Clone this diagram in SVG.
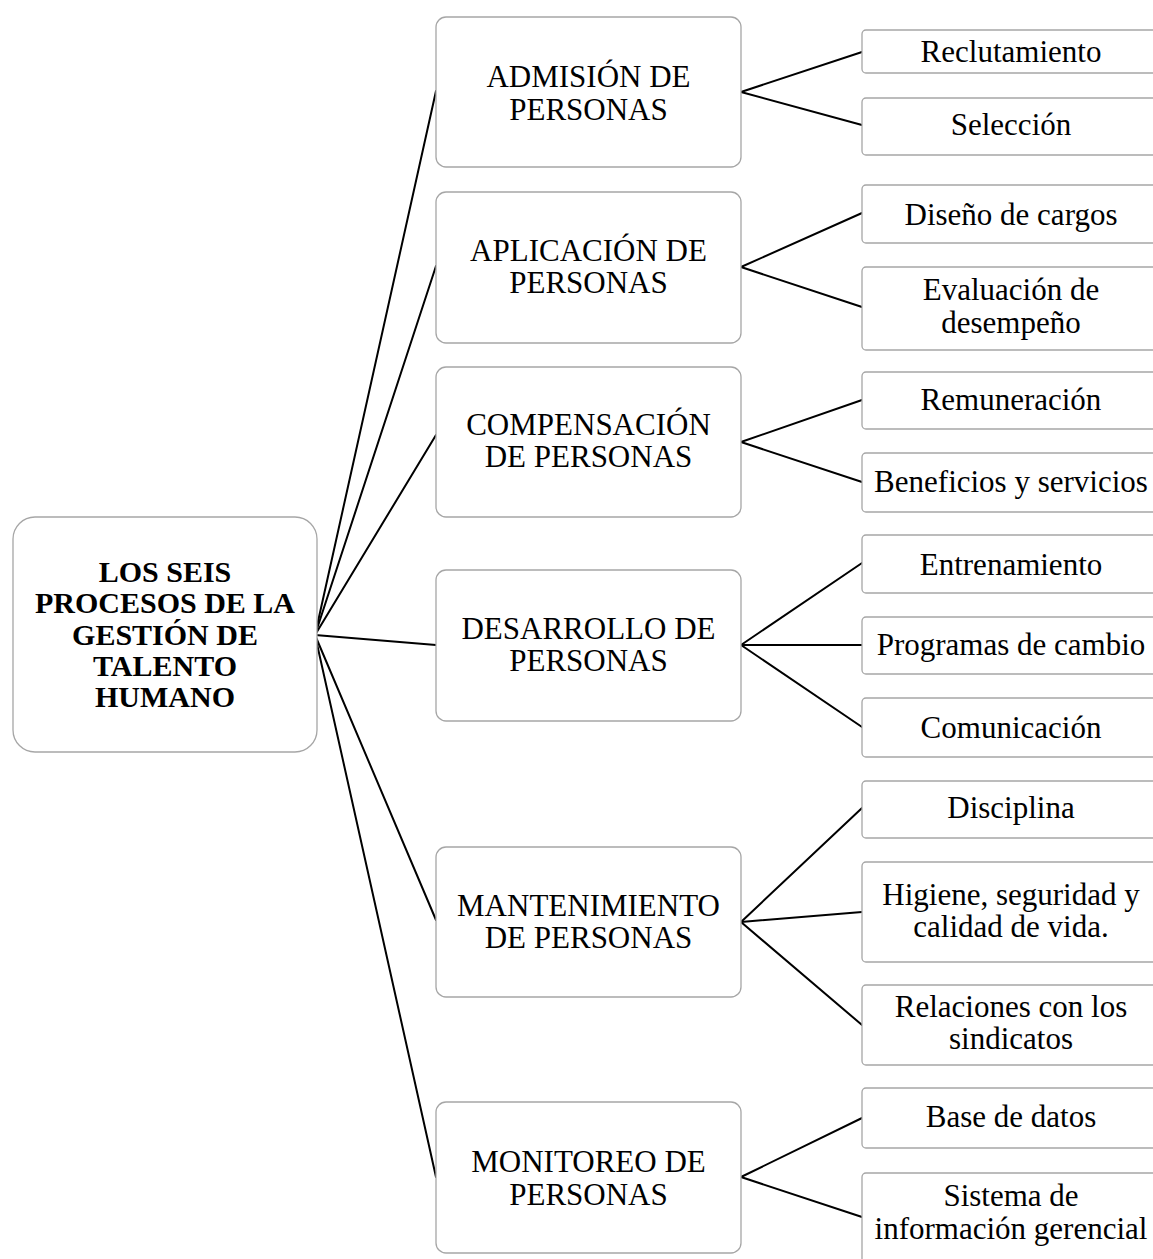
<svg xmlns="http://www.w3.org/2000/svg" width="1153" height="1259" viewBox="0 0 1153 1259">
<style>
.box{fill:#fff;stroke:#a6a6a6;stroke-width:1.3}
.t{font-family:"Liberation Serif","Times New Roman",serif;font-size:31px;fill:#000;text-anchor:middle}
.b{font-weight:bold;font-size:30px}
.c line{stroke:#000;stroke-width:2;stroke-linecap:round}
</style>
<rect width="1153" height="1259" fill="#fff"/>
<g class="c" id="connectors">
<line x1="315" y1="635" x2="436" y2="91"/>
<line x1="315" y1="635" x2="436" y2="266"/>
<line x1="315" y1="635" x2="436" y2="435"/>
<line x1="315" y1="635" x2="436" y2="645"/>
<line x1="315" y1="635" x2="436" y2="920"/>
<line x1="315" y1="635" x2="436" y2="1177"/>
<line x1="741" y1="92" x2="862" y2="52"/>
<line x1="741" y1="92" x2="862" y2="125"/>
<line x1="741" y1="267" x2="862" y2="213"/>
<line x1="741" y1="267" x2="862" y2="307"/>
<line x1="741" y1="442" x2="862" y2="400"/>
<line x1="741" y1="442" x2="862" y2="482"/>
<line x1="741" y1="645" x2="862" y2="563"/>
<line x1="741" y1="645" x2="862" y2="645"/>
<line x1="741" y1="645" x2="862" y2="727"/>
<line x1="741" y1="922" x2="862" y2="808"/>
<line x1="741" y1="922" x2="862" y2="912"/>
<line x1="741" y1="922" x2="862" y2="1025"/>
<line x1="741" y1="1177" x2="862" y2="1118"/>
<line x1="741" y1="1177" x2="862" y2="1217"/>
</g>
<g id="root">
<rect class="box" x="13" y="517" width="304" height="235" rx="22"/>
<text class="t b" x="165" y="582">LOS SEIS</text>
<text class="t b" x="165" y="613">PROCESOS DE LA</text>
<text class="t b" x="165" y="645">GESTIÓN DE</text>
<text class="t b" x="165" y="676">TALENTO</text>
<text class="t b" x="165" y="707">HUMANO</text>
</g>
<g id="admision">
<rect class="box" x="436" y="17" width="305" height="150" rx="10"/>
<text class="t" x="588.5" y="87">ADMISIÓN DE</text>
<text class="t" x="588.5" y="120">PERSONAS</text>
</g>
<g id="aplicacion">
<rect class="box" x="436" y="192" width="305" height="151" rx="10"/>
<text class="t" x="588.5" y="261">APLICACIÓN DE</text>
<text class="t" x="588.5" y="293">PERSONAS</text>
</g>
<g id="compensacion">
<rect class="box" x="436" y="367" width="305" height="150" rx="10"/>
<text class="t" x="588.5" y="435">COMPENSACIÓN</text>
<text class="t" x="588.5" y="467">DE PERSONAS</text>
</g>
<g id="desarrollo">
<rect class="box" x="436" y="570" width="305" height="151" rx="10"/>
<text class="t" x="588.5" y="639">DESARROLLO DE</text>
<text class="t" x="588.5" y="671">PERSONAS</text>
</g>
<g id="mantenimiento">
<rect class="box" x="436" y="847" width="305" height="150" rx="10"/>
<text class="t" x="588.5" y="916">MANTENIMIENTO</text>
<text class="t" x="588.5" y="948">DE PERSONAS</text>
</g>
<g id="monitoreo">
<rect class="box" x="436" y="1102" width="305" height="151" rx="10"/>
<text class="t" x="588.5" y="1172">MONITOREO DE</text>
<text class="t" x="588.5" y="1205">PERSONAS</text>
</g>
<g id="reclutamiento">
<rect class="box" x="862" y="30" width="300" height="43" rx="4"/>
<text class="t" x="1011" y="62">Reclutamiento</text>
</g>
<g id="seleccion">
<rect class="box" x="862" y="98" width="300" height="57" rx="4"/>
<text class="t" x="1011" y="135">Selección</text>
</g>
<g id="diseno">
<rect class="box" x="862" y="185" width="300" height="58" rx="4"/>
<text class="t" x="1011" y="225">Diseño de cargos</text>
</g>
<g id="evaluacion">
<rect class="box" x="862" y="267" width="300" height="83" rx="4"/>
<text class="t" x="1011" y="300">Evaluación de</text>
<text class="t" x="1011" y="333">desempeño</text>
</g>
<g id="remuneracion">
<rect class="box" x="862" y="372" width="300" height="57" rx="4"/>
<text class="t" x="1011" y="410">Remuneración</text>
</g>
<g id="beneficios">
<rect class="box" x="862" y="453" width="300" height="59" rx="4"/>
<text class="t" x="1011" y="492">Beneficios y servicios</text>
</g>
<g id="entrenamiento">
<rect class="box" x="862" y="535" width="300" height="58" rx="4"/>
<text class="t" x="1011" y="575">Entrenamiento</text>
</g>
<g id="programas">
<rect class="box" x="862" y="617" width="300" height="57" rx="4"/>
<text class="t" x="1011" y="655">Programas de cambio</text>
</g>
<g id="comunicacion">
<rect class="box" x="862" y="698" width="300" height="59" rx="4"/>
<text class="t" x="1011" y="738">Comunicación</text>
</g>
<g id="disciplina">
<rect class="box" x="862" y="781" width="300" height="57" rx="4"/>
<text class="t" x="1011" y="818">Disciplina</text>
</g>
<g id="higiene">
<rect class="box" x="862" y="862" width="300" height="100" rx="4"/>
<text class="t" x="1011" y="905">Higiene, seguridad y</text>
<text class="t" x="1011" y="937">calidad de vida.</text>
</g>
<g id="relaciones">
<rect class="box" x="862" y="985" width="300" height="80" rx="4"/>
<text class="t" x="1011" y="1017">Relaciones con los</text>
<text class="t" x="1011" y="1049">sindicatos</text>
</g>
<g id="basedatos">
<rect class="box" x="862" y="1088" width="300" height="60" rx="4"/>
<text class="t" x="1011" y="1127">Base de datos</text>
</g>
<g id="sistema">
<rect class="box" x="862" y="1173" width="300" height="95" rx="4"/>
<text class="t" x="1011" y="1206">Sistema de</text>
<text class="t" x="1011" y="1239">información gerencial</text>
</g>
</svg>
